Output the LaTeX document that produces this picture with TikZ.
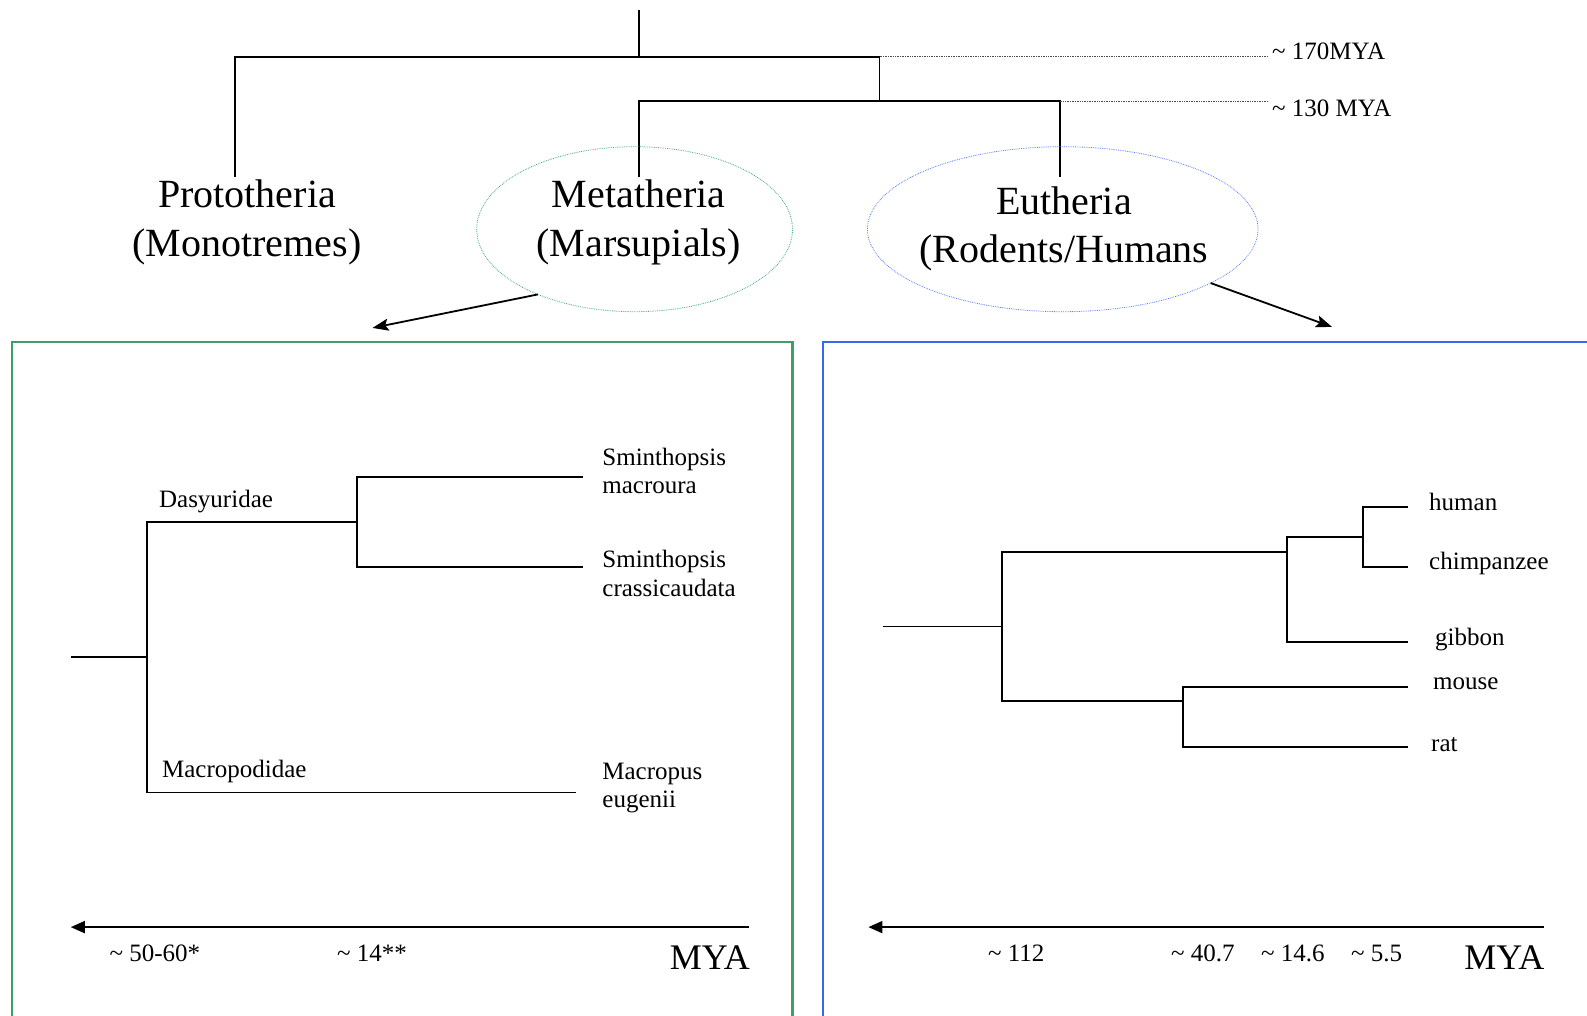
\documentclass[tikz,border=0pt]{standalone}
\usepackage{fontspec}
\setmainfont{Liberation Serif}
\usetikzlibrary{arrows.meta,shapes.geometric}
\definecolor{boxgreen}{RGB}{60,160,105}
\definecolor{boxblue}{RGB}{55,105,240}
\definecolor{elgreen}{RGB}{70,170,125}
\definecolor{elblue}{RGB}{90,125,245}
\begin{document}
\begin{tikzpicture}[x=1pt,y=-1pt,
  tree/.style={line width=1.9pt},
  dotline/.style={densely dotted, line width=0.7pt, black!70},
  big/.style={font=\fontsize{40}{48.6}\selectfont, align=center, inner sep=0pt},
  small/.style={font=\fontsize{25}{28.5}\selectfont, align=left, inner sep=0pt, anchor=west},
  mya/.style={font=\fontsize{36}{40}\selectfont, inner sep=0pt, anchor=east},
  elnode/.style={ellipse, densely dotted, line width=0.8pt, inner sep=0pt, outer sep=0pt, minimum height=165pt},
  toparr/.style={line width=1.8pt, -{Stealth[length=16pt,width=12pt,inset=3pt]}},
  axis/.style={line width=1.8pt, -{Triangle[length=14pt,width=12pt]}}
]
\useasboundingbox[fill=white] (0,0) rectangle (1587,1015);

% ---------- top tree ----------
\coordinate (root) at (638.6,10.1);
\coordinate (n170) at (879.5,56.7);
\coordinate (n130) at (1059.7,101.2);
\draw[tree] (root) -- (638.6,56.7);
\draw[tree] (234.8,177) -- (234.8,56.7) -- (n170) -- (879.5,101.2);
\draw[tree] (638.6,177) -- (638.6,101.2) -- (n130) -- (1059.7,177);

\coordinate (d170) at (1268,56.7);
\coordinate (d130) at (1268,101.2);
\draw[dotline] (n170) -- (d170);
\draw[dotline] (n130) -- (d130);
\node[small] (l170) at (1272,51.6) {\textasciitilde{} 170MYA};
\node[small] (l130) at (1272,108.8) {\textasciitilde{} 130 MYA};

\node[big] (proto) at (247,222.5) {Prototheria\\(Monotremes)};
\node[elnode, draw=elgreen, minimum width=315.8pt] (meta) at (634.6,229.2) {};
\node[big] (metatxt) at (638.6,222.6) {Metatheria\\(Marsupials)};
\node[elnode, draw=elblue, minimum width=390.6pt] (eut) at (1062.7,229.2) {};
\node[big] (euttxt) at (1064,228.7) {Eutheria\\(Rodents/Humans};

\coordinate (metaend) at (372.5,327.9);
\coordinate (eutend) at (1332,326.9);
\draw[toparr] (meta.214.7) -- (metaend);
\draw[toparr] (eut.340.4) -- (eutend);

% ---------- boxes ----------
\draw[boxgreen, line width=2.2pt] (12.1,1025) -- (12.1,342.1) -- (792.5,342.1) -- (792.5,1025);
\draw[boxblue, line width=2.2pt] (822.8,1025) -- (822.8,342.1) -- (1595,342.1);

% ---------- left tree ----------
\draw[tree] (70.8,656.9) -- (146.8,656.9);
\draw[tree] (357.3,522.2) -- (146.8,522.2) -- (146.8,792.5) -- (575.9,792.5);
\draw[tree] (583,476.7) -- (357.3,476.7) -- (357.3,566.8) -- (583,566.8);

\node[small] (dasy) at (158.9,502) {Dasyuridae};
\node[small] (macro) at (161.9,771.5) {Macropodidae};
\node[small] (smac) at (602.2,471) {Sminthopsis\\macroura};
\node[small] (scra) at (602.2,573.5) {Sminthopsis\\crassicaudata};
\node[small] (meug) at (602.2,788) {Macropus\\eugenii};

\coordinate (laxr) at (749,927.1);
\coordinate (laxl) at (70.8,927.1);
\draw[axis] (laxr) -- (laxl);
\node[small] (t5060) at (109.3,953.4) {\textasciitilde{} 50-60*};
\node[small] (t14) at (337,953.4) {\textasciitilde{} 14**};
\node[mya] (mya1) at (750,957.5) {MYA};

% ---------- right tree ----------
\draw[tree] (882.6,626.5) -- (1002,626.5);
\draw[tree] (1287.4,551.6) -- (1002,551.6) -- (1002,701.4) -- (1183.2,701.4);
\draw[tree] (1363.3,537.4) -- (1287.4,537.4) -- (1287.4,641.7) -- (1407.8,641.7);
\draw[tree] (1407.8,507) -- (1363.3,507) -- (1363.3,566.8) -- (1407.8,566.8);
\draw[tree] (1407.8,687.2) -- (1183.2,687.2) -- (1183.2,746.9) -- (1407.8,746.9);

\node[small] (human) at (1429,502) {human};
\node[small] (chimp) at (1429,563.7) {chimpanzee};
\node[small] (gibbon) at (1435,639.6) {gibbon};
\node[small] (mouse) at (1433,683.5) {mouse};
\node[small] (rat) at (1431,744.5) {rat};

\coordinate (raxr) at (1543.5,927.1);
\coordinate (raxl) at (868.4,927.1);
\draw[axis] (raxr) -- (raxl);
\node[small] (t112) at (987.8,953.4) {\textasciitilde{} 112};
\node[small] (t407) at (1171,953.4) {\textasciitilde{} 40.7};
\node[small] (t146) at (1261,953.4) {\textasciitilde{} 14.6};
\node[small] (t55) at (1351,953.4) {\textasciitilde{} 5.5};
\node[mya] (mya2) at (1544.5,957.5) {MYA};
\end{tikzpicture}
\end{document}
